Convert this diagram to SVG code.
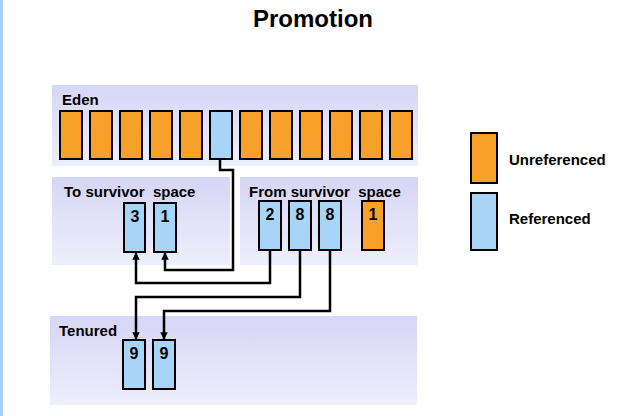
<svg xmlns="http://www.w3.org/2000/svg" width="642" height="416" viewBox="0 0 642 416">
<style>
.p{fill:url(#g)}
.o{fill:#f7a02a;stroke:#000;stroke-width:2}
.b{fill:#a8d4f8;stroke:#000;stroke-width:2}
.t{font-family:"Liberation Sans",Arial,sans-serif;font-weight:bold;font-size:15px;fill:#000;white-space:pre}
.n{font-family:"Liberation Sans",Arial,sans-serif;font-weight:bold;font-size:16px;text-anchor:middle}
.c{fill:none;stroke:#000;stroke-width:2.5;marker-end:url(#a)}
</style>
<defs>
<linearGradient id="g" x1="0" y1="0" x2="0" y2="1"><stop offset="0" stop-color="#d6d6f6"/><stop offset="1" stop-color="#eeeefc"/></linearGradient>
<marker id="a" viewBox="0 0 10 10" refX="9" refY="5" markerWidth="3" markerHeight="3" orient="auto"><path d="M0,0L10,5L0,10z"/></marker>
</defs>
<rect width="642" height="416" fill="#fff"/>
<rect x="0" y="0" width="3" height="416" fill="#a8d0f4"/>
<text x="313" y="27" font-family="Liberation Sans,Arial,sans-serif" font-weight="bold" font-size="24" text-anchor="middle">Promotion</text>
<g id="eden"><rect class="p" x="52" y="85" width="366" height="81"/><text class="t" x="62" y="105">Eden</text>
<rect class="o" x="60" y="111" width="22" height="48"/><rect class="o" x="90" y="111" width="22" height="48"/><rect class="o" x="120" y="111" width="22" height="48"/><rect class="o" x="150" y="111" width="22" height="48"/><rect class="o" x="180" y="111" width="22" height="48"/><rect class="b" x="210" y="111" width="22" height="48"/><rect class="o" x="240" y="111" width="22" height="48"/><rect class="o" x="270" y="111" width="22" height="48"/><rect class="o" x="300" y="111" width="22" height="48"/><rect class="o" x="330" y="111" width="22" height="48"/><rect class="o" x="360" y="111" width="22" height="48"/><rect class="o" x="390" y="111" width="22" height="48"/></g>
<g id="to"><rect class="p" x="52" y="177" width="178" height="88"/><text class="t" x="64" y="197" xml:space="preserve">To survivor  space</text>
<rect class="b" x="124" y="203" width="21" height="49"/><text class="n" x="135" y="222">3</text>
<rect class="b" x="154" y="203" width="22" height="49"/><text class="n" x="165" y="222">1</text></g>
<g id="from"><rect class="p" x="240" y="177" width="178" height="88"/><text class="t" x="249" y="197" xml:space="preserve">From survivor  space</text>
<rect class="b" x="259" y="201" width="22" height="49"/><text class="n" x="270" y="220">2</text>
<rect class="b" x="289" y="201" width="22" height="49"/><text class="n" x="300" y="220">8</text>
<rect class="b" x="319" y="201" width="22" height="49"/><text class="n" x="330" y="220">8</text>
<rect class="o" x="362" y="201" width="22" height="49"/><text class="n" x="373" y="220">1</text></g>
<g id="tenured"><rect class="p" x="50" y="316" width="367" height="89"/><text class="t" x="59" y="336">Tenured</text>
<rect class="b" x="123" y="340" width="22" height="49"/><text class="n" x="134" y="359">9</text>
<rect class="b" x="153" y="340" width="22" height="49"/><text class="n" x="164" y="359">9</text></g>
<g id="legend"><rect class="o" x="471" y="133" width="26" height="50"/><text class="t" x="509" y="165">Unreferenced</text>
<rect class="b" x="471" y="193" width="26" height="57"/><text class="t" x="509" y="224">Referenced</text></g>
<g id="connectors">
<path class="c" d="M220,159V170H233V270H165V253"/>
<path class="c" d="M270,250V283H136V253"/>
<path class="c" d="M300,250V297H136V339"/>
<path class="c" d="M330,250V311H164V339"/>
</g>
</svg>
